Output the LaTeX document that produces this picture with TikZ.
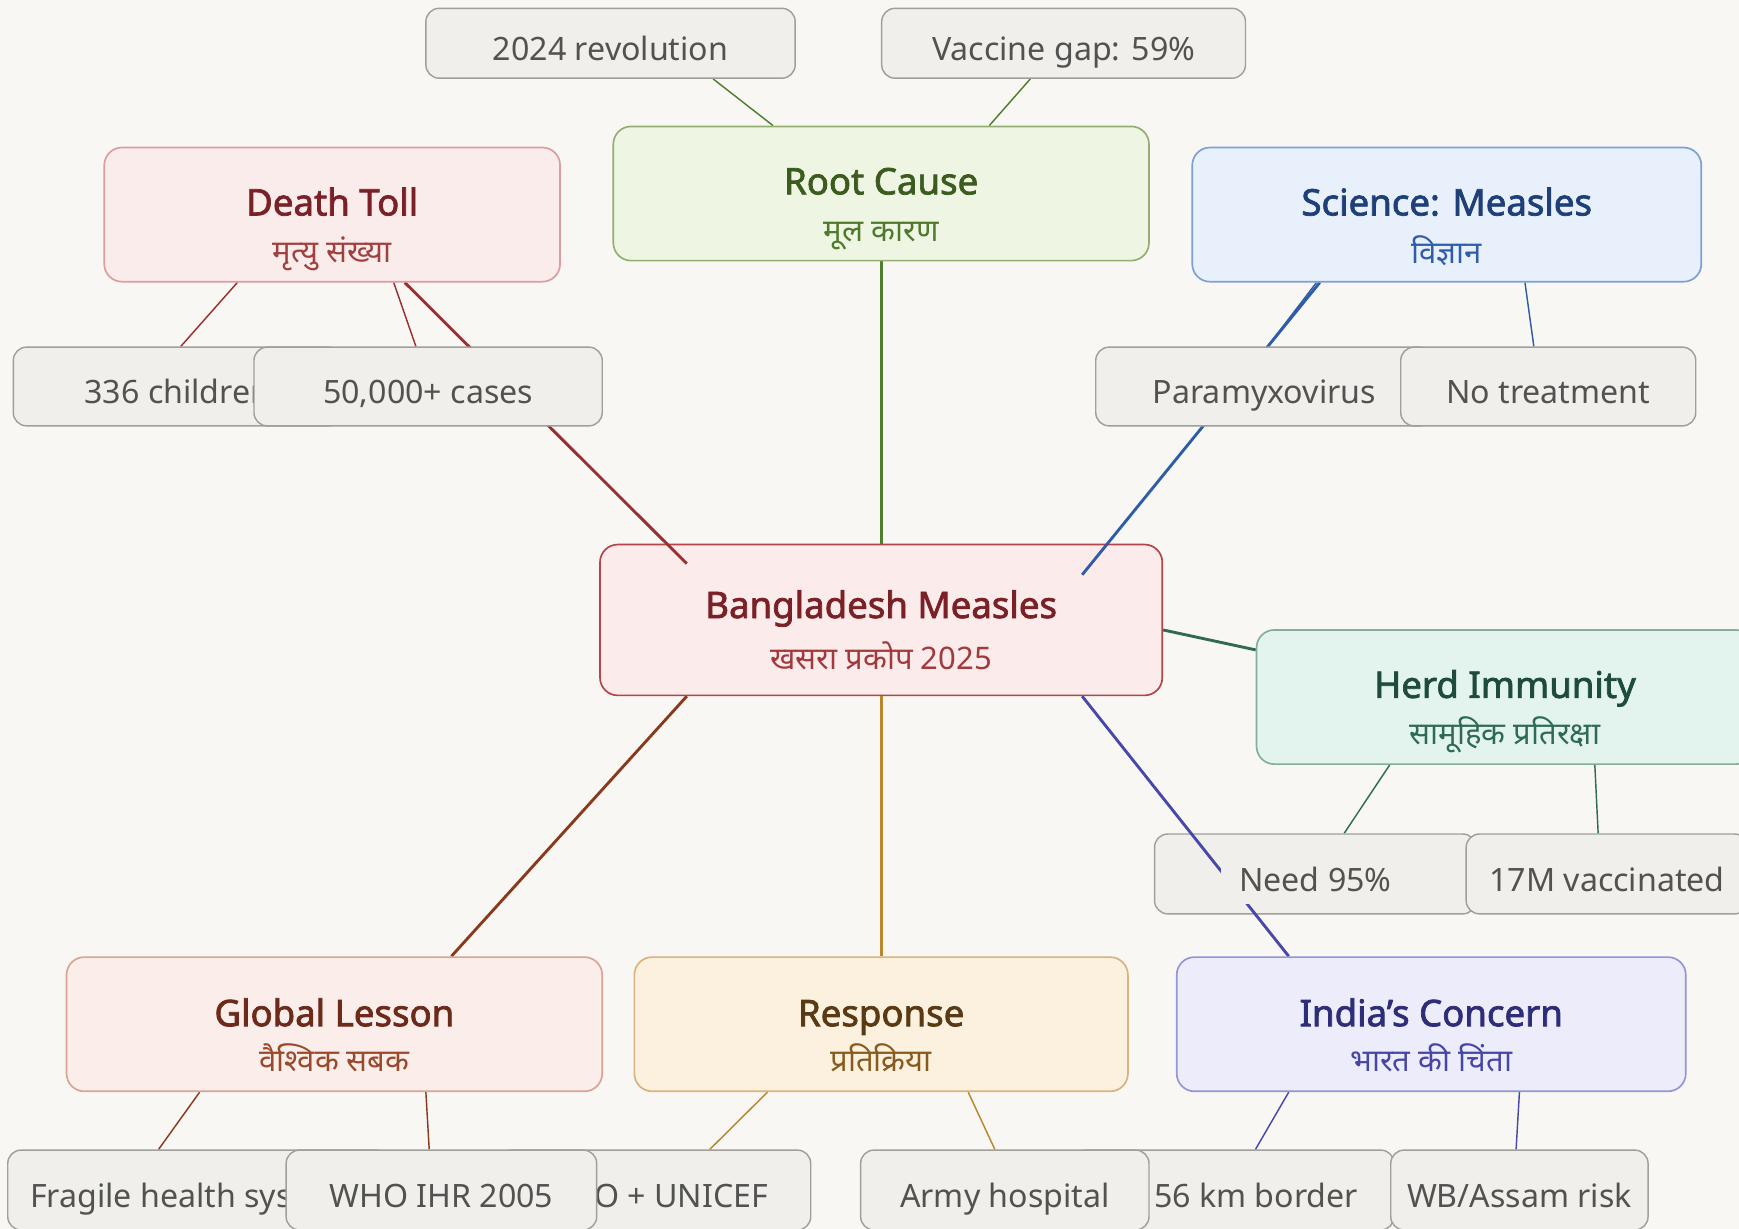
\documentclass[tikz,border=0pt]{standalone}
\usepackage{fontspec}
\setmainfont{Noto Sans}
\newfontfamily\ttlfont{Noto Sans}[FakeBold=2]
\newfontfamily\hindi[Script=Devanagari]{Noto Sans}
\usetikzlibrary{calc}
\definecolor{bgc}{HTML}{F8F7F3}
\definecolor{leafF}{HTML}{F0EFEB}
\definecolor{leafD}{HTML}{A09F9A}
\definecolor{leafT}{HTML}{525250}
% centre
\definecolor{ctrF}{HTML}{FBEBEA}
\definecolor{ctrD}{HTML}{B4444A}
\definecolor{ctrT}{HTML}{7A2127}
\definecolor{ctrS}{HTML}{A2393C}
% death
\definecolor{dthF}{HTML}{FBECEC}
\definecolor{dthD}{HTML}{DE9C9E}
\definecolor{dthT}{HTML}{7A2127}
\definecolor{dthS}{HTML}{A0403F}
\definecolor{dthL}{HTML}{9B2E2E}
% root
\definecolor{rtF}{HTML}{EEF5E2}
\definecolor{rtD}{HTML}{93AE72}
\definecolor{rtT}{HTML}{3B5C1E}
\definecolor{rtS}{HTML}{4F7A2B}
\definecolor{rtL}{HTML}{4E7E2E}
% science
\definecolor{sciF}{HTML}{E7F0FB}
\definecolor{sciD}{HTML}{7E9FD6}
\definecolor{sciT}{HTML}{1F3F78}
\definecolor{sciS}{HTML}{2F5DAA}
\definecolor{sciL}{HTML}{2F5CA8}
% herd
\definecolor{hrdF}{HTML}{E3F4EE}
\definecolor{hrdD}{HTML}{82AE9A}
\definecolor{hrdT}{HTML}{1F4B3C}
\definecolor{hrdS}{HTML}{2F6A55}
\definecolor{hrdL}{HTML}{2F6A55}
% india
\definecolor{indF}{HTML}{ECECFB}
\definecolor{indD}{HTML}{9494DA}
\definecolor{indT}{HTML}{2E2E78}
\definecolor{indS}{HTML}{4646A6}
\definecolor{indL}{HTML}{4848AA}
% response
\definecolor{rspF}{HTML}{FBF1DE}
\definecolor{rspD}{HTML}{DBB17C}
\definecolor{rspT}{HTML}{5A3A12}
\definecolor{rspS}{HTML}{8A5A1C}
\definecolor{rspL}{HTML}{B8862C}
% global
\definecolor{glbF}{HTML}{FAEDEA}
\definecolor{glbD}{HTML}{DBA394}
\definecolor{glbT}{HTML}{6B2A1A}
\definecolor{glbS}{HTML}{9A4A2A}
\definecolor{glbL}{HTML}{8A3A1C}
\pgfdeclarelayer{ea}\pgfdeclarelayer{na}
\pgfdeclarelayer{eb}\pgfdeclarelayer{nb}
\pgfdeclarelayer{ec}\pgfdeclarelayer{nc}
\pgfdeclarelayer{ed}\pgfdeclarelayer{nd}
\pgfdeclarelayer{ee}\pgfdeclarelayer{ne}
\pgfdeclarelayer{ef}\pgfdeclarelayer{nf}
\pgfdeclarelayer{eg}\pgfdeclarelayer{ng}
\pgfsetlayers{main,ea,na,eb,nb,ec,nc,ed,nd,ee,ne,ef,nf,eg,ng}
\begin{document}
\begin{tikzpicture}[x=1pt,y=-1pt,
  bbox/.style={draw, line width=1.5pt, rounded corners=16pt, inner sep=0pt, minimum height=121pt},
  leafbox/.style={draw=leafD, fill=leafF, line width=1.3pt, rounded corners=12pt, inner sep=0pt, minimum height=71pt},
  ttl/.style={font=\fontsize{33}{36}\selectfont\ttlfont, text height=24.5pt, text depth=0pt},
  subt/.style={font=\fontsize{28}{32}\selectfont\hindi, text height=22pt, text depth=6pt},
  lft/.style={font=\fontsize{29}{32}\selectfont, text=leafT, text height=21.5pt, text depth=0pt},
  trunk/.style={line width=2.6pt},
  twig/.style={line width=1.3pt}]
\path[use as bounding box, fill=bgc] (0,0) rectangle (1568,1108);

% centre
\node[bbox, fill=ctrF, draw=ctrD, minimum width=507pt, minimum height=136pt,
  label={[ttl, text=ctrT, yshift=14pt, name=ctrA]center:{Bangladesh Measles}},
  label={[subt, text=ctrS, yshift=-37pt, name=ctrB]center:{खसरा प्रकोप 2025}}] (ctr) at (794.5,559) {};

% ---------- Death Toll
\begin{pgfonlayer}{na}
\node[bbox, fill=dthF, draw=dthD, minimum width=411pt,
  label={[ttl, text=dthT, yshift=11.5pt, name=dthA]center:{Death Toll}},
  label={[subt, text=dthS, yshift=-35pt, name=dthB]center:{मृत्यु संख्या}}] (death) at (299.5,193.5) {};
\node[leafbox, minimum width=296pt, label={[lft, yshift=-5pt, name=c336T]center:{336 children}}] (c336) at (160,348.5) {};
\node[leafbox, minimum width=314pt, label={[lft, yshift=-5pt, name=casesT]center:{50,000+ cases}}] (cases) at (386,348.5) {};
\end{pgfonlayer}
\begin{pgfonlayer}{ea}
\draw[trunk, dthL] ($(death.south)+(65.5,0)$) -- ($(ctr.north west)+(79,18)$);
\draw[twig, dthL] ($(death.south)+(-85.5,0)$) -- ($(c336.north)+(3,0)$);
\draw[twig, dthL] ($(death.south)+(55.5,0)$) -- ($(cases.north)+(-11,0)$);
\end{pgfonlayer}

% ---------- Root Cause
\begin{pgfonlayer}{nb}
\node[bbox, fill=rtF, draw=rtD, minimum width=483pt,
  label={[ttl, text=rtT, yshift=11.5pt, name=rtA]center:{Root Cause}},
  label={[subt, text=rtS, yshift=-35pt, name=rtB]center:{मूल कारण}}] (root) at (794.5,174.5) {};
\node[leafbox, minimum width=333pt, minimum height=63pt, label={[lft, yshift=-5pt, name=revT]center:{2024 revolution}}] (rev) at (550.5,39) {};
\node[leafbox, minimum width=328pt, minimum height=63pt, label={[lft, yshift=-5pt, name=gapT]center:{Vaccine gap: 59\%}}] (gap) at (959,39) {};
\end{pgfonlayer}
\begin{pgfonlayer}{eb}
\draw[trunk, rtL] (root.south) -- (ctr.north);
\draw[twig, rtL] ($(root.north)+(-97.5,0)$) -- ($(rev.south)+(92.5,0)$);
\draw[twig, rtL] ($(root.north)+(97.5,0)$) -- ($(gap.south)+(-30,0)$);
\end{pgfonlayer}

% ---------- Science
\begin{pgfonlayer}{nc}
\node[bbox, fill=sciF, draw=sciD, minimum width=459pt,
  label={[ttl, text=sciT, yshift=11.5pt, name=sciA]center:{Science: Measles}},
  label={[subt, text=sciS, yshift=-36pt, name=sciB]center:{विज्ञान}}] (sci) at (1304.5,193.5) {};
\node[leafbox, minimum width=304pt, label={[lft, yshift=-5pt, name=paraT]center:{Paramyxovirus}}] (para) at (1140,348.5) {};
\node[leafbox, minimum width=266pt, label={[lft, yshift=-5pt, name=notrT]center:{No treatment}}] (notr) at (1396,348.5) {};
\end{pgfonlayer}
\begin{pgfonlayer}{ec}
\draw[trunk, sciL] ($(sci.south)+(-114.5,0)$) -- ($(ctr.north east)+(-73,28)$);
\draw[twig, sciL] ($(sci.south)+(-117.5,0)$) -- ($(para.north)+(3,0)$);
\draw[twig, sciL] ($(sci.south)+(70.5,0)$) -- ($(notr.north)+(-13,0)$);
\end{pgfonlayer}

% ---------- Herd Immunity
\begin{pgfonlayer}{nd}
\node[bbox, fill=hrdF, draw=hrdD, minimum width=448pt,
  label={[ttl, text=hrdT, yshift=11.5pt, name=hrdA]center:{Herd Immunity}},
  label={[subt, text=hrdS, yshift=-35pt, name=hrdB]center:{सामूहिक प्रतिरक्षा}}] (herd) at (1357,628.5) {};
\node[leafbox, minimum width=290pt, minimum height=72pt] (need) at (1186,788) {};
\node[leafbox, minimum width=254pt, minimum height=72pt, label={[lft, yshift=-5pt, name=vaccT]center:{17M vaccinated}}] (vacc) at (1449,788) {};
\end{pgfonlayer}
\begin{pgfonlayer}{ed}
\draw[trunk, hrdL] ($(ctr.east)+(0,9)$) -- ($(herd.west)+(0,-42.5)$);
\draw[twig, hrdL] ($(herd.south)+(-104,0)$) -- ($(need.north)+(26,0)$);
\draw[twig, hrdL] ($(herd.south)+(81,0)$) -- ($(vacc.north)+(-8,0)$);
\end{pgfonlayer}

% ---------- India's Concern
\begin{pgfonlayer}{ne}
\node[lft, fill=leafF, inner xsep=16pt, inner ysep=11pt] (needT) at ($(need.center)+(0,5)$) {Need 95\%};
\node[bbox, fill=indF, draw=indD, minimum width=459pt,
  label={[ttl, text=indT, yshift=10.5pt, name=indA]center:{India’s Concern}},
  label={[subt, text=indS, yshift=-34.5pt, name=indB]center:{भारत की चिंता}}] (india) at (1290.5,923.5) {};
\node[leafbox, minimum width=290pt, minimum height=72pt, label={[lft, yshift=-5pt, name=bordT]center:{4,156 km border}}] (border) at (1112,1073) {};
\node[leafbox, minimum width=232pt, minimum height=72pt, label={[lft, yshift=-5pt, name=wbT]center:{WB/Assam risk}}] (wb) at (1370,1073) {};
\end{pgfonlayer}
\begin{pgfonlayer}{ee}
\draw[trunk, indL] ($(ctr.south east)+(-73,0)$) -- ($(india.north)+(-128.5,0)$);
\draw[twig, indL] ($(india.south)+(-128.5,0)$) -- ($(border.north)+(20,0)$);
\draw[twig, indL] ($(india.south)+(79.5,0)$) -- ($(wb.north)+(-3,0)$);
\end{pgfonlayer}

% ---------- Response
\begin{pgfonlayer}{nf}
\node[bbox, fill=rspF, draw=rspD, minimum width=445pt,
  label={[ttl, text=rspT, yshift=10.5pt, name=rspA]center:{Response}},
  label={[subt, text=rspS, yshift=-34.5pt, name=rspB]center:{प्रतिक्रिया}}] (resp) at (794.5,923.5) {};
\node[leafbox, minimum width=282pt, minimum height=72pt, label={[lft, yshift=-5pt, name=uniT]center:{WHO + UNICEF}}] (unicef) at (590,1073) {};
\node[leafbox, minimum width=260pt, minimum height=72pt, label={[lft, yshift=-5pt, name=armyT]center:{Army hospital}}] (army) at (906,1073) {};
\end{pgfonlayer}
\begin{pgfonlayer}{ef}
\draw[trunk, rspL] (ctr.south) -- (resp.north);
\draw[twig, rspL] ($(resp.south)+(-102.5,0)$) -- ($(unicef.north)+(50,0)$);
\draw[twig, rspL] ($(resp.south)+(78.5,0)$) -- ($(army.north)+(-9,0)$);
\end{pgfonlayer}

% ---------- Global Lesson
\begin{pgfonlayer}{ng}
\node[bbox, fill=glbF, draw=glbD, minimum width=483pt,
  label={[ttl, text=glbT, yshift=10.5pt, name=glbA]center:{Global Lesson}},
  label={[subt, text=glbS, yshift=-34.5pt, name=glbB]center:{वैश्विक सबक}}] (glob) at (301.5,923.5) {};
\node[leafbox, minimum width=344pt, minimum height=72pt, label={[lft, yshift=-5pt, name=fragT]center:{Fragile health systems}}] (frag) at (179,1073) {};
\node[leafbox, minimum width=280pt, minimum height=72pt, label={[lft, yshift=-5pt, name=whoT]center:{WHO IHR 2005}}] (who) at (398,1073) {};
\end{pgfonlayer}
\begin{pgfonlayer}{eg}
\draw[trunk, glbL] ($(ctr.south west)+(79,0)$) -- ($(glob.north)+(105.5,0)$);
\draw[twig, glbL] ($(glob.south)+(-121.5,0)$) -- ($(frag.north)+(-36,0)$);
\draw[twig, glbL] ($(glob.south)+(82.5,0)$) -- ($(who.north)+(-11,0)$);
\end{pgfonlayer}
\end{tikzpicture}
\end{document}
